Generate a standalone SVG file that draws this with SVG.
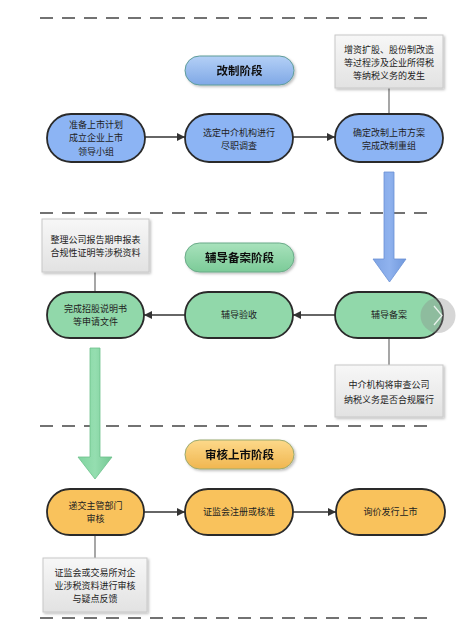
<svg xmlns="http://www.w3.org/2000/svg" width="467" height="626" viewBox="0 0 467 626">
<defs>
<linearGradient id="gBlueT" x1="0" y1="0" x2="0" y2="1"><stop offset="0" stop-color="#b4d0f6"/><stop offset="1" stop-color="#7fa8e6"/></linearGradient>
<linearGradient id="gGreenT" x1="0" y1="0" x2="0" y2="1"><stop offset="0" stop-color="#a8e2bc"/><stop offset="1" stop-color="#7ccb98"/></linearGradient>
<linearGradient id="gOrangeT" x1="0" y1="0" x2="0" y2="1"><stop offset="0" stop-color="#fdd98a"/><stop offset="1" stop-color="#f0b650"/></linearGradient>
<linearGradient id="gNote" x1="0" y1="0" x2="0" y2="1"><stop offset="0" stop-color="#f7f7f7"/><stop offset="1" stop-color="#e2e2e2"/></linearGradient>
<linearGradient id="gBlueA" x1="0" y1="0" x2="1" y2="0"><stop offset="0" stop-color="#7fa4e4"/><stop offset="0.5" stop-color="#8fb2ee"/><stop offset="1" stop-color="#7098dc"/></linearGradient>
<linearGradient id="gGreenA" x1="0" y1="0" x2="1" y2="0"><stop offset="0" stop-color="#80d4a0"/><stop offset="0.5" stop-color="#95deb0"/><stop offset="1" stop-color="#74c894"/></linearGradient>
<filter id="sh" x="-10%" y="-10%" width="125%" height="130%"><feDropShadow dx="1.5" dy="1.5" stdDeviation="1" flood-color="#000" flood-opacity="0.25"/></filter>
<marker id="ah" viewBox="0 0 10 10" refX="10" refY="5" markerWidth="8" markerHeight="8" markerUnits="userSpaceOnUse" orient="auto"><path d="M0,0 L10,5 L0,10 Z" fill="#333"/></marker>
</defs>
<style>
text{font-family:"Noto Sans CJK SC","Liberation Sans",sans-serif;font-size:9px;fill:#222;text-anchor:middle}
.t{font-size:11.5px;font-weight:bold;fill:#111}
.dash{stroke:#444;stroke-width:1.3;stroke-dasharray:13 9;fill:none}
.node{stroke:#2a2a2a;stroke-width:1.8}
.blue{fill:#8cb4f4}
.green{fill:#91d8aa}
.orange{fill:#f9c25c}
.note{fill:url(#gNote);stroke:#c8c8c8;stroke-width:1;filter:url(#sh)}
.conn{stroke:#333;stroke-width:1.4;fill:none}
.tie{stroke:#777;stroke-width:1.3;fill:none}
</style>
<rect width="467" height="626" fill="#fff"/>
<g id="separators">
<line class="dash" x1="40" y1="18" x2="428" y2="18"/>
<line class="dash" x1="40" y1="213" x2="428" y2="213"/>
<line class="dash" x1="40" y1="426" x2="428" y2="426"/>
<line class="dash" x1="40" y1="618" x2="428" y2="618"/>
</g>
<g id="connectors">
<line class="conn" x1="145" y1="137" x2="185" y2="137" marker-end="url(#ah)"/>
<line class="conn" x1="293" y1="137" x2="335" y2="137" marker-end="url(#ah)"/>
<line class="conn" x1="335" y1="315" x2="293" y2="315" marker-end="url(#ah)"/>
<line class="conn" x1="185" y1="315" x2="144" y2="315" marker-end="url(#ah)"/>
<line class="conn" x1="144" y1="512" x2="185" y2="512" marker-end="url(#ah)"/>
<line class="conn" x1="293" y1="512" x2="336" y2="512" marker-end="url(#ah)"/>
<line class="tie" x1="389" y1="88" x2="389" y2="114"/>
<line class="tie" x1="95" y1="272" x2="95" y2="292"/>
<line class="tie" x1="389" y1="338" x2="389" y2="365"/>
<line class="tie" x1="95" y1="535" x2="95" y2="558"/>
<path d="M384,172 L394,172 L394,259 L406,259 L389.5,282 L373,259 L384,259 Z" fill="url(#gBlueA)" stroke="#6a90d4" stroke-width="0.8"/>
<path d="M90,348 L100,348 L100,457 L112,457 L95,479 L78,457 L90,457 Z" fill="url(#gGreenA)" stroke="#6cc08c" stroke-width="0.8"/>
</g>
<g id="title1" filter="url(#sh)"><rect x="185" y="56" width="109" height="29" rx="14.5" fill="url(#gBlueT)" stroke="#5e9c98" stroke-width="1"/><text class="t" x="239.5" y="75">改制阶段</text></g>
<g id="note1"><rect class="note" x="335" y="35" width="108" height="53"/><text x="389" y="53">增资扩股、股份制改造</text><text x="389" y="66">等过程涉及企业所得税</text><text x="389" y="79">等纳税义务的发生</text></g>
<g id="n1"><rect class="node blue" x="47" y="114" width="98" height="48" rx="24"/><text x="96" y="128">准备上市计划</text><text x="96" y="141">成立企业上市</text><text x="96" y="155">领导小组</text></g>
<g id="n2"><rect class="node blue" x="185" y="114" width="108" height="48" rx="24"/><text x="239" y="136">选定中介机构进行</text><text x="239" y="149">尽职调查</text></g>
<g id="n3"><rect class="node blue" x="335" y="114" width="108" height="48" rx="24"/><text x="389" y="136">确定改制上市方案</text><text x="389" y="149">完成改制重组</text></g>
<g id="title2" filter="url(#sh)"><rect x="185" y="243" width="109" height="29" rx="14.5" fill="url(#gGreenT)" stroke="#6aaa88" stroke-width="1"/><text class="t" x="239.5" y="262">辅导备案阶段</text></g>
<g id="note2"><rect class="note" x="42" y="219" width="107" height="53"/><text x="95.5" y="243">整理公司报告期申报表</text><text x="95.5" y="256">合规性证明等涉税资料</text></g>
<g id="n4"><rect class="node green" x="47" y="292" width="97" height="46" rx="23"/><text x="95.5" y="312">完成招股说明书</text><text x="95.5" y="325">等申请文件</text></g>
<g id="n5"><rect class="node green" x="185" y="292" width="108" height="46" rx="23"/><text x="239" y="318">辅导验收</text></g>
<g id="n6"><rect class="node green" x="335" y="292" width="108" height="46" rx="23"/><text x="389" y="318">辅导备案</text></g>
<g id="scrollbtn"><circle cx="438" cy="315.5" r="17.5" fill="#8a8a8a" fill-opacity="0.35"/><path d="M434,306 L442,315.5 L434,325" fill="none" stroke="#fff" stroke-opacity="0.8" stroke-width="1.3"/></g>
<g id="note3"><rect class="note" x="335" y="365" width="108" height="52"/><text x="389" y="388">中介机构将审查公司</text><text x="389" y="403">纳税义务是否合规履行</text></g>
<g id="title3" filter="url(#sh)"><rect x="185" y="440" width="109" height="29" rx="14.5" fill="url(#gOrangeT)" stroke="#9aaa70" stroke-width="1"/><text class="t" x="239.5" y="459">审核上市阶段</text></g>
<g id="n7"><rect class="node orange" x="47" y="489" width="97" height="46" rx="23"/><text x="95.5" y="509">递交主管部门</text><text x="95.5" y="522">审核</text></g>
<g id="n8"><rect class="node orange" x="185" y="489" width="108" height="46" rx="23"/><text x="239" y="515">证监会注册或核准</text></g>
<g id="n9"><rect class="node orange" x="336" y="489" width="109" height="46" rx="23"/><text x="390.5" y="515">询价发行上市</text></g>
<g id="note4"><rect class="note" x="43" y="558" width="104" height="54"/><text x="95" y="576">证监会或交易所对企</text><text x="95" y="589">业涉税资料进行审核</text><text x="95" y="602">与疑点反馈</text></g>
</svg>
